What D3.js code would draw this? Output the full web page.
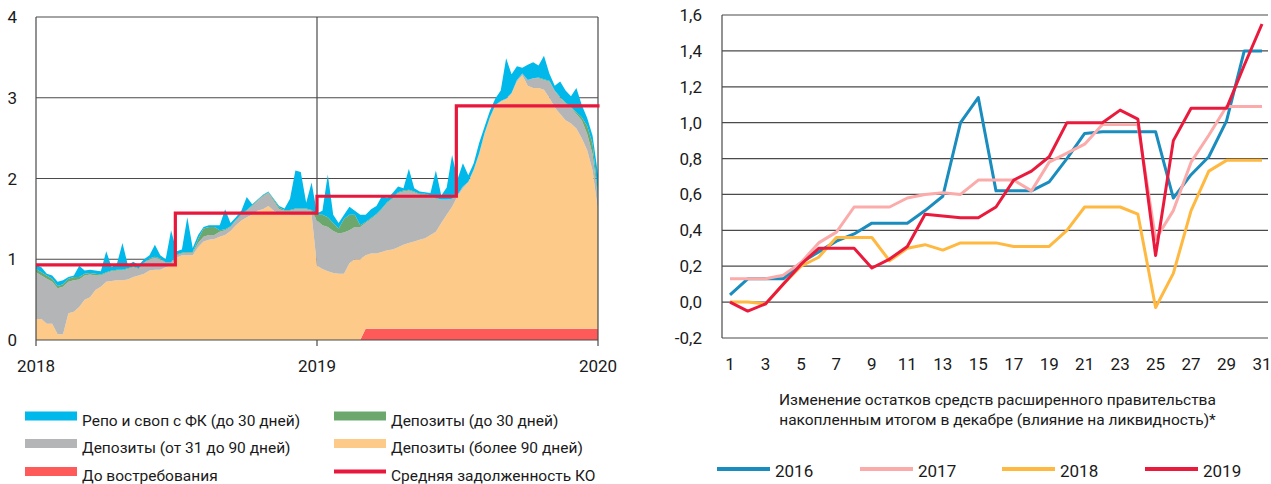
<!DOCTYPE html>
<html>
<head>
<meta charset="utf-8">
<script src="https://cdn.jsdelivr.net/npm/d3@7"></script>
<style>
  html, body { margin: 0; padding: 0; background: #fff; }
  svg { display: block; font-family: Roboto, "Open Sans", sans-serif; }
</style>
</head>
<body>
<svg id="chart" width="1271" height="484"></svg>
<script>
// ---------------- LEFT CHART DATA (weekly, 2018-01 .. 2019-12) ----------------
const leftYTicks = [0, 1, 2, 3, 4];
const leftXTicks = ["2018", "2019", "2020"];

const demand = [ // До востребования
  0,0,0,0,0,0,0,0,0,0,0,0,0,0,0,0,0,0,0,0,0,0,0,0,0,0,0,0,0,0,0,0,0,0,0,0,0,0,0,0,0,0,0,0,0,0,0,0,0,0,0,0,
  0,0,0,0,0,0,0,0,0,
  0.14,0.14,0.14,0.14,0.14,0.14,0.14,0.14,0.14,0.14,0.14,0.14,0.14,0.14,0.14,0.14,0.14,0.14,0.14,0.14,0.14,0.14,
  0.14,0.14,0.14,0.14,0.14,0.14,0.14,0.14,0.14,0.14,0.14,0.14,0.14,0.14,0.14,0.14,0.14,0.14,0.14,0.14,0.14,0.14
];
const depLong = [ // Депозиты (более 90 дней)
  .26,.26,.20,.20,.07,.07,.33,.35,.41,.50,.53,.62,.66,.72,.73,.74,.74,.75,.78,.80,.82,.86,.87,.87,.90,.92,
  1.02,1.05,1.05,1.05,1.15,1.22,1.24,1.25,1.28,1.30,1.35,1.42,1.48,1.52,1.55,1.60,1.62,1.66,1.60,1.57,1.56,1.55,1.55,1.55,1.55,1.55,
  .92,.88,.85,.83,.82,.82,.95,1.00,1.00,
  .91,.93,.93,.95,.97,.98,1.01,1.04,1.06,1.08,1.10,1.12,1.16,1.20,1.31,1.41,1.51,1.64,1.74,1.81,1.96,2.16,
  2.41,2.61,2.76,2.81,2.84,2.91,3.06,3.14,3.01,2.98,2.98,2.96,2.86,2.74,2.66,2.58,2.54,2.48,2.36,2.21,1.96,1.46
];
const depMid = [ // Депозиты (от 31 до 90 дней)
  .58,.54,.56,.52,.57,.59,.39,.39,.34,.30,.28,.18,.14,.11,.12,.12,.12,.13,.12,.08,.13,.14,.15,.13,.05,.03,
  .03,.02,.03,.03,.05,.06,.06,.05,.06,.06,.05,.06,.07,.08,.11,.12,.16,.16,.12,.05,.04,.05,.07,.07,.07,.05,
  .56,.54,.55,.52,.50,.51,.41,.40,.40,
  .40,.43,.48,.53,.59,.63,.67,.66,.65,.61,.56,.54,.48,.41,.29,.19,.10,.02,.02,.01,.01,.01,
  .01,.01,.01,.01,.01,.01,.02,.02,.07,.12,.12,.12,.20,.20,.20,.21,.20,.18,.22,.20,.20,.15
];
const depShort = [ // Депозиты (до 30 дней)
  .04,.04,.04,.04,.03,.03,.04,.04,.03,.02,.02,.02,.01,.01,.01,.01,.01,.01,.01,.01,.01,.01,.01,.01,.01,.01,
  .01,.01,.01,.01,.05,.10,.10,.10,.02,.01,.01,.01,.01,.01,.01,.01,.01,.01,.02,.02,.01,.01,.01,.01,.01,.01,
  .07,.13,.12,.10,.06,.17,.19,.15,.02,
  .01,.01,.01,.01,.01,.01,.01,.01,.01,.01,.01,.01,.01,.01,0,0,0,0,0,0,0,0,
  0,0,0,0,0,0,0,0,0,0,.01,.01,.01,.01,.01,.01,.01,.02,.04,.10,.13,.05,0,0
];
const repo = [ // Репо и своп с ФК (до 30 дней)
  .05,.06,.02,.04,.05,.05,.02,.02,.14,.04,.04,.04,.04,.26,.04,.08,.33,.04,.06,.04,.04,.04,.15,.04,.04,.40,
  .04,.04,.43,.05,.05,.02,.02,.02,.06,.25,.04,.03,.04,.16,.01,.01,.01,.01,.01,.02,.02,.14,.47,.45,.07,.34,
  .02,.05,.53,.10,.07,.05,.10,.05,.13,
  .09,.11,.10,.15,.05,.06,.07,.03,.26,.04,.03,.02,.03,.34,.05,.15,.54,.19,.29,.08,.08,.13,
  .08,.08,.08,.13,.50,.23,.17,.07,.19,.20,.15,.29,.09,.06,.19,.15,.13,.30,.15,.10,.10,.25
];
const debtDates  = ["2018-01-01", "2018-07-01", "2019-01-01", "2019-07-01", "2020-01-03"];
const debtValues = [0.93, 1.57, 1.78, 2.90, 2.90];

const leftLegend = [
  {name: "Репо и своп с ФК (до 30 дней)", key: "repo"},
  {name: "Депозиты (до 30 дней)", key: "depShort"},
  {name: "Депозиты (от 31 до 90 дней)", key: "depMid"},
  {name: "Депозиты (более 90 дней)", key: "depLong"},
  {name: "До востребования", key: "demand"},
  {name: "Средняя задолженность КО", key: "debt"}
];

// ---------------- RIGHT CHART DATA ----------------
const days = d3.range(1, 32);
const rightYTicks = [-0.2, 0, 0.2, 0.4, 0.6, 0.8, 1.0, 1.2, 1.4, 1.6];
const rightXTicks = [1,3,5,7,9,11,13,15,17,19,21,23,25,27,29,31];
const s2016 = [0.04,0.13,0.13,0.13,0.22,0.28,0.34,0.38,0.44,0.44,0.44,0.51,0.59,1.00,1.14,0.62,0.62,0.62,0.67,0.80,0.94,0.95,0.95,0.95,0.95,0.58,0.71,0.81,1.01,1.40,1.40];
const s2017 = [0.13,0.13,0.13,0.15,0.22,0.33,0.39,0.53,0.53,0.53,0.58,0.60,0.61,0.60,0.68,0.68,0.68,0.62,0.78,0.83,0.88,0.99,0.99,0.99,0.35,0.51,0.78,0.93,1.09,1.09,1.09];
const s2018 = [0.00,0.00,-0.01,0.10,0.20,0.25,0.36,0.36,0.36,0.23,0.30,0.32,0.29,0.33,0.33,0.33,0.31,0.31,0.31,0.40,0.53,0.53,0.53,0.49,-0.03,0.16,0.51,0.73,0.79,0.79,0.79];
const s2019 = [0.00,-0.05,-0.01,0.10,0.21,0.30,0.30,0.30,0.19,0.24,0.31,0.49,0.48,0.47,0.47,0.53,0.68,0.73,0.81,1.00,1.00,1.00,1.07,1.02,0.26,0.90,1.08,1.08,1.08,1.32,1.55];
const rightSeries = [
  {name: "2016", values: s2016, color: "#1a8cbe"},
  {name: "2017", values: s2017, color: "#fbabaa"},
  {name: "2018", values: s2018, color: "#ffb840"},
  {name: "2019", values: s2019, color: "#ea1a3d"}
];
const rightTitle = ["Изменение остатков средств расширенного правительства",
                    "накопленным итогом в декабре (влияние на ликвидность)*"];

// ---------------- STYLE ----------------
const colors = {
  repo: "#00b8ea", depShort: "#6ca86e", depMid: "#b4b5b7",
  depLong: "#fdca8a", demand: "#ff5a5a", debt: "#e8173c"
};
const gridColor = "#4a4a4a";
const textColor = "#1a1a1a";

const svg = d3.select("#chart");

// ================= LEFT CHART =================
const L = {x0: 36, x1: 598, y0: 340, y1: 17};
const t0 = new Date(2018, 0, 1), t1 = new Date(2020, 0, 1);
const xL = d3.scaleTime().domain([t0, t1]).range([L.x0, L.x1]);
const yL = d3.scaleLinear().domain([0, 4]).range([L.y0, L.y1]);

const n = demand.length;
const rows = d3.range(n).map(i => ({
  date: new Date(+t0 + i * (t1 - t0) / (n - 1)),
  demand: demand[i], depLong: depLong[i], depMid: depMid[i],
  depShort: depShort[i], repo: repo[i]
}));
const keys = ["demand", "depLong", "depMid", "depShort", "repo"];
const stacked = d3.stack().keys(keys)(rows);

const gL = svg.append("g");
// grid
gL.selectAll("line.hg").data(leftYTicks.filter(d => d > 0)).join("line")
  .attr("x1", L.x0).attr("x2", L.x1)
  .attr("y1", d => yL(d)).attr("y2", d => yL(d))
  .attr("stroke", gridColor).attr("stroke-width", 1.2);
gL.append("line").attr("x1", xL(new Date(2019,0,1))).attr("x2", xL(new Date(2019,0,1)))
  .attr("y1", L.y1).attr("y2", L.y0)
  .attr("stroke", gridColor).attr("stroke-width", 1.2);

const area = d3.area()
  .x(d => xL(d.data.date))
  .y0(d => yL(d[0])).y1(d => yL(d[1]))
  .curve(d3.curveLinear);
gL.selectAll("path.layer").data(stacked).join("path")
  .attr("d", area).attr("fill", d => colors[d.key]);

// borders & axis
gL.append("line").attr("x1", L.x0).attr("x2", L.x0).attr("y1", L.y1).attr("y2", L.y0)
  .attr("stroke", gridColor).attr("stroke-width", 1.2);
gL.append("line").attr("x1", L.x1).attr("x2", L.x1).attr("y1", L.y1).attr("y2", L.y0)
  .attr("stroke", gridColor).attr("stroke-width", 1.2);
gL.append("line").attr("x1", L.x0).attr("x2", L.x1).attr("y1", L.y0).attr("y2", L.y0)
  .attr("stroke", gridColor).attr("stroke-width", 1.2);

// debt step line
const debt = debtDates.map((d, i) => ({date: new Date(d + "T00:00:00"), v: debtValues[i]}));
gL.append("path").datum(debt)
  .attr("d", d3.line().x(d => xL(d.date)).y(d => yL(d.v)).curve(d3.curveStepAfter))
  .attr("fill", "none").attr("stroke", colors.debt).attr("stroke-width", 3.2);

// x ticks & labels
leftXTicks.forEach(lbl => {
  const x = xL(new Date(+lbl, 0, 1));
  gL.append("line").attr("x1", x).attr("x2", x).attr("y1", L.y0).attr("y2", L.y0 + 6)
    .attr("stroke", gridColor).attr("stroke-width", 1.2);
  gL.append("text").attr("x", x).attr("y", 372).attr("text-anchor", "middle")
    .attr("font-size", 17).attr("fill", textColor).text(lbl);
});
// y labels
gL.selectAll("text.yl").data(leftYTicks).join("text")
  .attr("x", 17).attr("y", d => yL(d) + 6).attr("text-anchor", "end")
  .attr("font-size", 17).attr("fill", textColor).text(d => d);

// left legend
const legPos = [
  {key: "repo", x: 25, y: 416}, {key: "depShort", x: 334, y: 416},
  {key: "depMid", x: 25, y: 443.5}, {key: "depLong", x: 334, y: 443.5},
  {key: "demand", x: 25, y: 471.5}, {key: "debt", x: 334, y: 471.5}
];
legPos.forEach(p => {
  const item = leftLegend.find(d => d.key === p.key);
  if (p.key === "debt") {
    svg.append("line").attr("x1", p.x).attr("x2", p.x + 52).attr("y1", p.y).attr("y2", p.y)
      .attr("stroke", colors.debt).attr("stroke-width", 4);
  } else {
    svg.append("rect").attr("x", p.x).attr("y", p.y - 4.5).attr("width", 52).attr("height", 9)
      .attr("fill", colors[p.key]);
  }
  svg.append("text").attr("x", p.x + 57).attr("y", p.y + 9.5)
    .attr("font-size", 15.5).attr("fill", textColor).text(item.name);
});

// ================= RIGHT CHART =================
const R = {x0: 722, x1: 1268, y0: 338, y1: 15};
const xR = d3.scaleLinear().domain([1, 31]).range([730, 1262]);
const yR = d3.scaleLinear().domain([-0.2, 1.6]).range([R.y0, R.y1]);
const gR = svg.append("g");
gR.selectAll("line.hg").data(rightYTicks).join("line")
  .attr("x1", R.x0).attr("x2", R.x1)
  .attr("y1", d => yR(d)).attr("y2", d => yR(d))
  .attr("stroke", gridColor).attr("stroke-width", 1.2);
gR.append("line").attr("x1", R.x0).attr("x2", R.x0).attr("y1", R.y1).attr("y2", R.y0)
  .attr("stroke", gridColor).attr("stroke-width", 1.2);

const fmt = d => d3.format(".1f")(d).replace(".", ",").replace("−", "-");
gR.selectAll("text.yl").data(rightYTicks).join("text")
  .attr("x", 702).attr("y", d => yR(d) + 6).attr("text-anchor", "end")
  .attr("font-size", 17).attr("fill", textColor).text(fmt);
gR.selectAll("text.xl").data(rightXTicks).join("text")
  .attr("x", d => xR(d)).attr("y", 370).attr("text-anchor", "middle")
  .attr("font-size", 17).attr("fill", textColor).text(d => d);

const line = d3.line().x((d, i) => xR(days[i])).y(d => yR(d));
gR.selectAll("path.s").data(rightSeries).join("path")
  .attr("d", d => line(d.values)).attr("fill", "none")
  .attr("stroke", d => d.color).attr("stroke-width", 3)
  .attr("stroke-linejoin", "round");

rightTitle.forEach((t, i) => {
  svg.append("text").attr("x", 997.5).attr("y", 405 + i * 20).attr("text-anchor", "middle")
    .attr("font-size", 15.5).attr("fill", textColor).text(t);
});
const rLegX = [717, 860, 1002, 1145];
rightSeries.forEach((s, i) => {
  svg.append("line").attr("x1", rLegX[i]).attr("x2", rLegX[i] + 53).attr("y1", 469).attr("y2", 469)
    .attr("stroke", s.color).attr("stroke-width", 4);
  svg.append("text").attr("x", rLegX[i] + 58).attr("y", 477)
    .attr("font-size", 17).attr("fill", textColor).text(s.name);
});
</script>
</body>
</html>
